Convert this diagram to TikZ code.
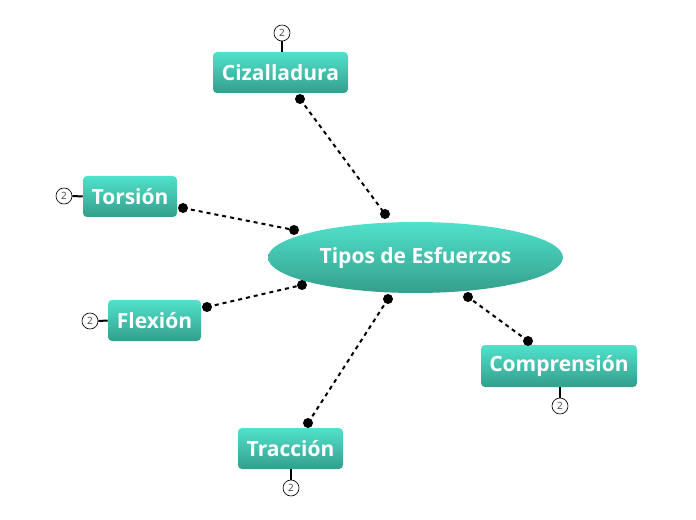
\documentclass[tikz,border=0pt]{standalone}
\usepackage{fontspec}
\setmainfont{Open Sans}
\usetikzlibrary{shapes.geometric}
\definecolor{topc}{RGB}{80,226,204}
\definecolor{botc}{RGB}{52,158,140}
\tikzset{
  topic/.style={rounded corners=3pt, top color=topc, bottom color=botc, draw=none,
    text=white, font=\fontsize{15.75}{18}\selectfont\bfseries, inner sep=0pt,
    minimum height=30.75pt},
  central/.style={ellipse, top color=topc, bottom color=botc, draw=none,
    text=white, font=\fontsize{15.75}{18}\selectfont\bfseries, inner sep=0pt,
    minimum width=221.25pt, minimum height=53.25pt},
  link/.style={dashed, dash pattern=on 3pt off 3pt, line width=1.5pt, black},
  enddot/.style={circle, fill=black, inner sep=0pt, minimum size=7.5pt},
  countc/.style={circle, draw=black, line width=0.5pt, fill=white, inner sep=0pt,
    minimum size=12pt, font=\fontsize{7.5}{8}\selectfont, text=black!75},
  stub/.style={line width=1.5pt, black}
}
\begin{document}
\begin{tikzpicture}[x=0.75pt, y=-0.75pt]
\useasboundingbox (0,0) rectangle (696,520);
% nodes
\node[central] (c) at (415.5,257.5) {Tipos de Esfuerzos};
\node[topic, minimum width=101.25pt] (ciz) at (280.5,72.5) {Cizalladura};
\node[topic, minimum width=70.5pt] (tor) at (130,196.5) {Torsión};
\node[topic, minimum width=69.75pt] (fle) at (154.5,320.5) {Flexión};
\node[topic, minimum width=78.75pt] (tra) at (290.5,448.5) {Tracción};
\node[topic, minimum width=117pt, minimum height=31.5pt] (com) at (559,366) {Comprensión};
% end points
\coordinate (cizA) at (300,99);  \coordinate (cizB) at (385,214);
\coordinate (torA) at (183,208); \coordinate (torB) at (294,230);
\coordinate (fleA) at (207,307); \coordinate (fleB) at (302,285);
\coordinate (traA) at (308,423); \coordinate (traB) at (388,299);
\coordinate (comA) at (528,341); \coordinate (comB) at (468,297);
% connectors
\foreach \n in {ciz,tor,fle,tra,com}{
  \draw[link] (\n A) -- (\n B);
  \node[enddot] at (\n A) {};
  \node[enddot] at (\n B) {};
}
% count markers
\node[countc] (ncz) at (282,33) {2};
\draw[stub] (ncz.south) -- (282,52);
\node[countc] (nto) at (64,196) {2};
\draw[stub] (nto.east) -- (tor.west);
\node[countc] (nfl) at (90,321) {2};
\draw[stub] (nfl.east) -- (fle.west);
\node[countc] (ntr) at (291,488) {2};
\draw[stub] (ntr.north) -- (291,469);
\node[countc] (nco) at (560,406) {2};
\draw[stub] (nco.north) -- (560,387);
\end{tikzpicture}
\end{document}
